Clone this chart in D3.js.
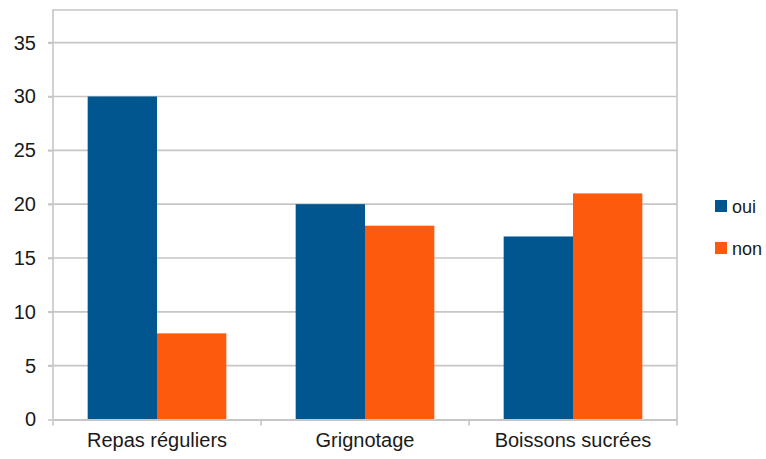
<!DOCTYPE html>
<html><head><meta charset="utf-8">
<script src="https://cdn.jsdelivr.net/npm/d3@7"></script>
<style>body{margin:0;background:#fff}svg{display:block}</style>
</head><body>
<script>
const categories = ["Repas réguliers", "Grignotage", "Boissons sucrées"];
const seriesNames = ["oui", "non"];
const oui = [30, 20, 17];
const non = [8, 18, 21];
const yTicks = [0, 5, 10, 15, 20, 25, 30, 35];
const colors = ["#01568f", "#fe5a0e"];

(function () {
const W = 766, H = 459;
const pL = 53, pR = 677, pT = 10, pB = 419.5;
const svg = d3.select("body").append("svg").attr("width", W).attr("height", H);
const font = "'Liberation Sans', Arial, sans-serif";
const grid = "#c6c6c6";

const y = d3.scaleLinear().domain([0, 30]).range([pB, 96.5]);
const x = d3.scaleBand().domain(categories).range([pL, pR]).paddingInner(0).paddingOuter(0);
const xs = d3.scaleBand().domain(seriesNames).range([0, x.bandwidth()]).paddingOuter(0.5).paddingInner(0);

// gridlines
svg.append("g").selectAll("line").data(yTicks.filter(d => d > 0)).join("line")
  .attr("x1", pL - 5).attr("x2", pR).attr("y1", d => y(d)).attr("y2", d => y(d))
  .attr("stroke", grid).attr("stroke-width", 1.6);
// border
svg.append("path").attr("d", `M${pL},${pB}V${pT}H${pR}V${pB}`)
  .attr("fill", "none").attr("stroke", grid).attr("stroke-width", 1.6);

// bars
const data = categories.map((c, i) => [{c, s: "oui", v: oui[i]}, {c, s: "non", v: non[i]}]).flat();
svg.append("g").selectAll("rect").data(data).join("rect")
  .attr("x", d => x(d.c) + xs(d.s)).attr("width", xs.bandwidth())
  .attr("y", d => y(d.v)).attr("height", d => pB - y(d.v))
  .attr("fill", d => colors[seriesNames.indexOf(d.s)]);

// y axis
const ya = svg.append("g").attr("transform", `translate(${pL},0)`)
  .call(d3.axisLeft(y).tickValues(yTicks).tickSize(5).tickPadding(12));
ya.select(".domain").remove();
ya.selectAll(".tick line").attr("stroke", grid).attr("stroke-width", 1.6);
ya.selectAll("text").attr("font-family", font).attr("font-size", 20).attr("fill", "#1a1a1a");

// x axis
const xa = svg.append("g").attr("transform", `translate(0,${pB})`)
  .call(d3.axisBottom(x).tickSize(0).tickPadding(13));
xa.select(".domain").attr("stroke", grid).attr("stroke-width", 2);
xa.selectAll("text").attr("font-family", font).attr("font-size", 20).attr("fill", "#1a1a1a");
const bounds = categories.map(c => x(c)).concat([pR]);
svg.append("g").selectAll("line").data(bounds).join("line")
  .attr("x1", d => d).attr("x2", d => d).attr("y1", pB).attr("y2", pB + 6)
  .attr("stroke", grid).attr("stroke-width", 1.6);

// legend
const lg = svg.append("g").selectAll("g").data(seriesNames).join("g")
  .attr("transform", (d, i) => `translate(715,${200 + i * 42})`);
lg.append("rect").attr("width", 12).attr("height", 12).attr("fill", (d, i) => colors[i]);
lg.append("text").attr("x", 17).attr("y", 13).text(d => d)
  .attr("font-family", font).attr("font-size", 18).attr("fill", "#1a1a1a");
})();
</script>
</body></html>
